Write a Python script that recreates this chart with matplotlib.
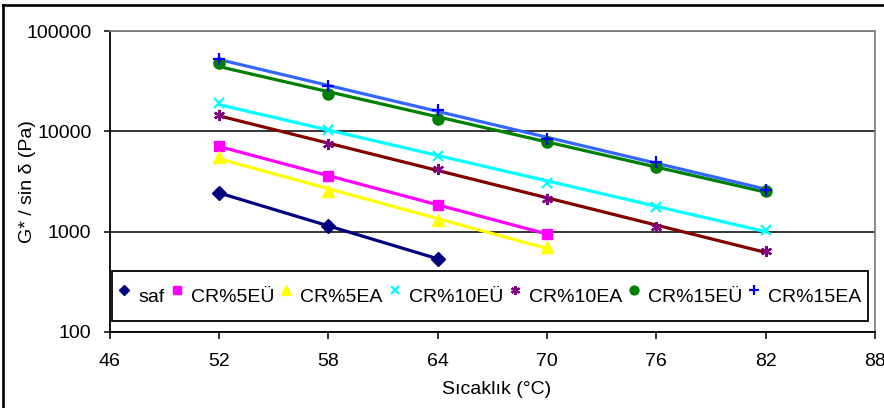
import numpy as np
import matplotlib
matplotlib.use("Agg")
import matplotlib.pyplot as plt
from matplotlib.lines import Line2D
from matplotlib.ticker import FixedLocator, FixedFormatter

plt.rcParams['font.family'] = ['Liberation Sans', 'DejaVu Sans']

# sicaklik degerleri
sicaklik_kisa = [52, 58, 64]
sicaklik_orta = [52, 58, 64, 70]
sicaklik_uzun = [52, 58, 64, 70, 76, 82]

saf = [2450, 1130, 540]
cr5eu = [7130, 3570, 1860, 950]
cr5ea = [5530, 2570, 1320, 700]
cr10eu = [19200, 10200, 5620, 3090, 1780, 1040]
cr10ea = [14500, 7530, 4170, 2120, 1120, 646]
cr15eu = [48200, 23300, 13200, 7820, 4400, 2570]
cr15ea = [52100, 28400, 16200, 8450, 4930, 2630]

seriler = [
    ("saf", sicaklik_kisa, saf, 'D', '#000080', '#000080', 7),
    ("CR%5EÜ", sicaklik_orta, cr5eu, 's', '#FF00FF', '#FF00FF', 7.5),
    ("CR%5EA", sicaklik_orta, cr5ea, '^', '#FFFF00', '#FFFF00', 8.5),
    ("CR%10EÜ", sicaklik_uzun, cr10eu, 'x', '#00FFFF', '#00FFFF', 7),
    ("CR%10EA", sicaklik_uzun, cr10ea, (6, 2, 0), '#800080', '#800000', 8),
    ("CR%15EÜ", sicaklik_uzun, cr15eu, 'o', '#008000', '#008000', 8),
    ("CR%15EA", sicaklik_uzun, cr15ea, '+', '#0000FF', '#3366FF', 9),
]

fig = plt.figure(figsize=(8.84, 4.08), dpi=100)
ax = fig.add_axes([109.5/884, 76/408, 765.5/884, 301/408])

for nome, xs, ys, mk, cor_mk, cor_linha, ms in seriler:
    xs = np.array(xs, dtype=float)
    ys = np.array(ys, dtype=float)
    # linha de tendencia exponencial
    a, b = np.polyfit(xs, np.log(ys), 1)
    xt = np.linspace(xs.min(), xs.max(), 60)
    ax.plot(xt, np.exp(b + a*xt), color=cor_linha, lw=2.3, zorder=3)
    ax.plot(xs, ys, linestyle='none', marker=mk, color=cor_mk, ms=ms,
            mew=1.6 if mk in ('x', '+') or isinstance(mk, tuple) else 1,
            label=nome, zorder=4)

ax.set_yscale('log')
ax.set_ylim(100, 100000)
ax.set_xlim(46, 88)
ax.yaxis.set_major_locator(FixedLocator([100, 1000, 10000, 100000]))
ax.yaxis.set_major_formatter(FixedFormatter(['100', '1000', '10000', '100000']))
ax.yaxis.set_minor_locator(FixedLocator([]))
ax.set_xticks(range(46, 89, 6))

ax.grid(axis='y', color='black', lw=1.1, zorder=1)
ax.tick_params(axis='y', labelsize=14, length=4.5, width=1.1, pad=8.5, color='black')
ax.tick_params(axis='x', labelsize=14, length=5, width=1.1, pad=10, color='black')

ax.spines['left'].set_color('black')
ax.spines['bottom'].set_color('black')
ax.spines['left'].set_linewidth(1.3)
ax.spines['bottom'].set_linewidth(1.3)
ax.spines['top'].set_color('#808080')
ax.spines['right'].set_color('#808080')
ax.spines['top'].set_linewidth(1.3)
ax.spines['right'].set_linewidth(1.3)

leg = ax.legend(loc='center', bbox_to_anchor=(0.497, 0.1196), ncol=7, fontsize=14,
                frameon=True, fancybox=False, edgecolor='black', framealpha=1,
                handlelength=0.64, handleheight=2.6, handletextpad=0.4,
                columnspacing=0.3, borderpad=0.3, borderaxespad=0,
                markerscale=0.8)
leg.get_frame().set_linewidth(1.3)
leg.set_zorder(5)

fig.text(27/884, 1 - 182/408, "G* / sin δ (Pa)", rotation=90, ha='center', va='center', fontsize=14)
fig.text(497/884, 1 - 390/408, "Sıcaklık (°C)", ha='center', va='center', fontsize=14)

# moldura externa
fig.add_artist(Line2D([2.7/884, 2.7/884], [0, 1 - 5/408], transform=fig.transFigure, color='black', lw=1.9))
fig.add_artist(Line2D([2.7/884, 1], [1 - 5/408, 1 - 5/408], transform=fig.transFigure, color='black', lw=1.9))

fig.savefig("out.png", dpi=100)
